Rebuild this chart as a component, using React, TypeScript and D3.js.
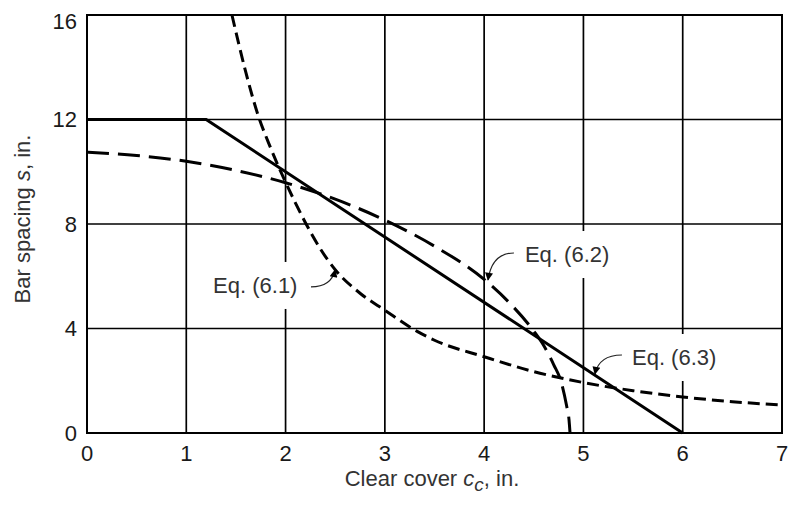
import React, { useEffect, useRef } from 'react';
import * as d3 from 'd3';

// axis ticks
const xTicks = [0, 1, 2, 3, 4, 5, 6, 7];
const yTicks = [0, 4, 8, 12, 16];

// Eq. (6.1) - short dashes
const eq61 = [
    [1.46, 16], [1.6, 13.8], [1.72, 12.2], [1.84, 11], [1.94, 10.1], [2, 9.6],
    [2.1, 8.8], [2.2, 8.05], [2.35, 7.05], [2.5, 6.25], [2.75, 5.35], [3, 4.7],
    [3.33, 3.88], [3.5, 3.55], [4, 2.92], [4.5, 2.35], [5, 1.93], [5.5, 1.62],
    [6, 1.38], [6.5, 1.2], [7, 1.07]
];

// Eq. (6.2) - long dashes
const eq62 = [
    [0, 10.75], [0.5, 10.62], [1, 10.4], [1.5, 10.05], [2, 9.58], [2.5, 8.95],
    [3, 8.15], [3.5, 7.15], [4, 5.88], [4.25, 5.0], [4.5, 3.9], [4.6, 3.35],
    [4.7, 2.62], [4.78, 1.9], [4.83, 1.05], [4.855, 0.5], [4.865, 0]
];

// Eq. (6.3) - solid
const eq63 = [[0, 12], [1.2, 12], [6, 0]];

// labels: text start / baseline, leader tail and arrow tip, all in data units
const labels = [
    { text: 'Eq. (6.1)', x: 1.27, y: 5.36, tail: [2.256, 5.59], tip: [2.498, 6.24] },
    { text: 'Eq. (6.2)', x: 4.411, y: 6.545, tail: [4.3, 6.89], tip: [4.039, 5.856] },
    { text: 'Eq. (6.3)', x: 5.489, y: 2.603, tail: [5.388, 2.986], tip: [5.116, 2.258] }
];

const App = () => {
    const svgRef = useRef<SVGSVGElement>(null);

    useEffect(() => {
        const width = 789;
        const height = 510;
        const font = '"Liberation Sans", Arial, Helvetica, sans-serif';
        const ink = '#1a1a1a';

        const svg = d3.select(svgRef.current)
            .attr('width', width)
            .attr('height', height);
        svg.selectAll('*').remove();

        const xScale = d3.scaleLinear().domain([0, 7]).range([87, 782]);
        const yScale = d3.scaleLinear().domain([0, 16]).range([433, 15]);

        svg.append('defs').append('marker')
            .attr('id', 'arrow')
            .attr('viewBox', '0 0 10 10')
            .attr('refX', 9)
            .attr('refY', 5)
            .attr('markerWidth', 11)
            .attr('markerHeight', 8)
            .attr('markerUnits', 'userSpaceOnUse')
            .attr('orient', 'auto')
            .append('path')
            .attr('d', 'M0,0 L10,5 L0,10 Z')
            .attr('fill', '#000');

        // grid
        const grid = svg.append('g');
        grid.selectAll('.vgrid')
            .data(xTicks.slice(1, -1))
            .enter().append('line')
            .attr('x1', d => xScale(d)).attr('x2', d => xScale(d))
            .attr('y1', yScale(0)).attr('y2', yScale(16))
            .attr('stroke', '#000').attr('stroke-width', 1.7);
        grid.selectAll('.hgrid')
            .data(yTicks.slice(1, -1))
            .enter().append('line')
            .attr('x1', xScale(0)).attr('x2', xScale(7))
            .attr('y1', d => yScale(d)).attr('y2', d => yScale(d))
            .attr('stroke', '#000').attr('stroke-width', 1.7);

        // label text first so the white boxes can be sized from it
        const labelG = svg.append('g');
        const texts = labels.map(l => labelG.append('text')
            .attr('x', xScale(l.x))
            .attr('y', yScale(l.y))
            .attr('font-family', font)
            .attr('font-size', 22)
            .attr('fill', '#333')
            .text(l.text));

        const boxes = svg.insert('g', () => labelG.node());
        texts.forEach((t, i) => {
            const w = (t.node() as SVGTextElement).getComputedTextLength();
            boxes.append('rect')
                .attr('x', xScale(labels[i].x) - 6)
                .attr('y', yScale(labels[i].y) - 31)
                .attr('width', w + 12)
                .attr('height', 47)
                .attr('fill', '#fff');
        });

        // curves
        const line = d3.line<number[]>()
            .x(d => xScale(d[0]))
            .y(d => yScale(d[1]))
            .curve(d3.curveMonotoneX);

        const curves = svg.insert('g', () => labelG.node());
        curves.append('path')
            .attr('d', line(eq61))
            .attr('fill', 'none').attr('stroke', '#000')
            .attr('stroke-width', 3).attr('stroke-dasharray', '12,6');
        curves.append('path')
            .attr('d', line(eq62))
            .attr('fill', 'none').attr('stroke', '#000')
            .attr('stroke-width', 3).attr('stroke-dasharray', '22,9');
        curves.append('path')
            .attr('d', d3.line<number[]>().x(d => xScale(d[0])).y(d => yScale(d[1]))(eq63))
            .attr('fill', 'none').attr('stroke', '#000')
            .attr('stroke-width', 3);

        // leaders
        labels.forEach(l => {
            const tx = xScale(l.tail[0]), ty = yScale(l.tail[1]);
            const px = xScale(l.tip[0]), py = yScale(l.tip[1]);
            const cx = px + (tx - px) * 0.15;
            labelG.append('path')
                .attr('d', `M${tx},${ty} Q${cx},${ty} ${px},${py}`)
                .attr('fill', 'none')
                .attr('stroke', '#222')
                .attr('stroke-width', 1.2)
                .attr('marker-end', 'url(#arrow)');
        });

        // frame
        svg.append('rect')
            .attr('x', xScale(0)).attr('y', yScale(16))
            .attr('width', xScale(7) - xScale(0))
            .attr('height', yScale(0) - yScale(16))
            .attr('fill', 'none').attr('stroke', '#000').attr('stroke-width', 2);

        // tick labels
        svg.selectAll('.xtick')
            .data(xTicks)
            .enter().append('text')
            .attr('x', d => xScale(d))
            .attr('y', 461)
            .attr('text-anchor', 'middle')
            .attr('font-family', font).attr('font-size', 22).attr('fill', ink)
            .text(d => d);
        svg.selectAll('.ytick')
            .data(yTicks)
            .enter().append('text')
            .attr('x', 77)
            .attr('y', d => Math.max(yScale(d), 21))
            .attr('dy', '0.36em')
            .attr('text-anchor', 'end')
            .attr('font-family', font).attr('font-size', 22).attr('fill', ink)
            .text(d => d);

        // axis titles
        const xt = svg.append('text')
            .attr('x', 432)
            .attr('y', 486)
            .attr('text-anchor', 'middle')
            .attr('font-family', font).attr('font-size', 22).attr('fill', '#333');
        xt.append('tspan').text('Clear cover ');
        xt.append('tspan').attr('font-style', 'italic').text('c');
        xt.append('tspan').attr('font-style', 'italic').attr('font-size', 19).attr('dy', 5).text('c');
        xt.append('tspan').attr('dy', -5).text(', in.');

        const yt = svg.append('text')
            .attr('transform', 'translate(30,219) rotate(-90)')
            .attr('text-anchor', 'middle')
            .attr('font-family', font).attr('font-size', 22).attr('fill', '#333');
        yt.append('tspan').text('Bar spacing ');
        yt.append('tspan').attr('font-style', 'italic').text('s');
        yt.append('tspan').text(', in.');
    }, []);

    return (
        <svg ref={svgRef} style={{ position: 'absolute', left: 0, top: 0, background: '#fff' }}></svg>
    );
};

export default App;
